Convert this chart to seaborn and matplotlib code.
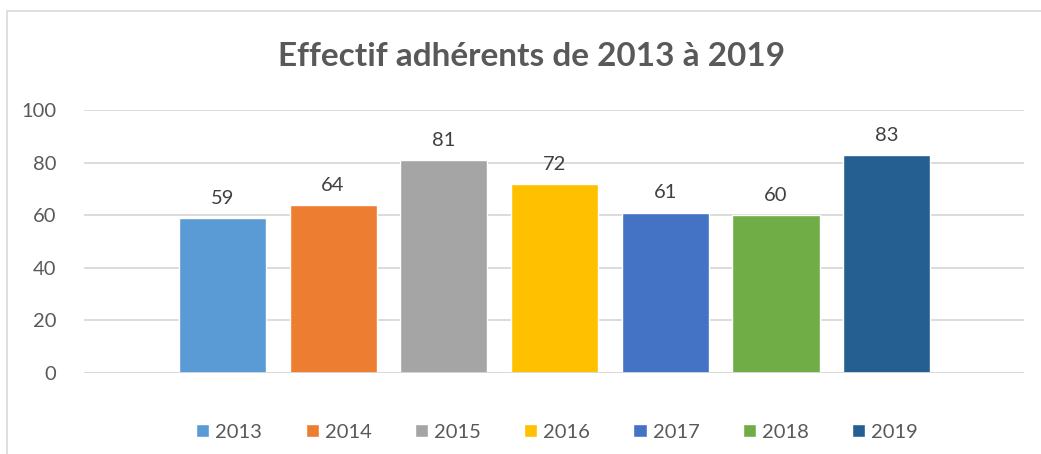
import matplotlib
matplotlib.use("Agg")
import matplotlib.pyplot as plt
from matplotlib.patches import Rectangle
import seaborn as sns
import pandas as pd

YEARS = ["2013", "2014", "2015", "2016", "2017", "2018", "2019"]
MEMBERS = [59, 64, 81, 72, 61, 60, 83]
COLORS = ["#5B9BD5", "#ED7D31", "#A5A5A5", "#FFC000", "#4472C4", "#70AD47", "#255E91"]
Y_TICKS = [0, 20, 40, 60, 80, 100]

sns.set_theme(style="white")
plt.rcParams["font.family"] = ["Lato", "DejaVu Sans"]

df = pd.DataFrame({"year": YEARS, "members": MEMBERS})

W, H = 1041, 454
fig = plt.figure(figsize=(W / 100, H / 100), dpi=100)
ax = fig.add_axes([84 / W, 1 - 373 / H, (1024 - 84) / W, (373 - 110) / H])

# chart area border (Excel style)
fig.patches.append(Rectangle((7 / W, -0.1), 1.2, 1 - 11 / H + 0.1,
                             transform=fig.transFigure, fill=False,
                             edgecolor="#D9D9D9", linewidth=1.2))

ax.set_axisbelow(True)
ax.yaxis.grid(True, color="#D9D9D9", linewidth=1.3)
for s in ax.spines.values():
    s.set_visible(False)

sns.barplot(data=df, x="year", y="members", hue="year", hue_order=YEARS,
            palette=COLORS, width=0.786, dodge=False, legend=True,
            saturation=1, ax=ax)

for c in ax.containers:
    ax.bar_label(c, padding=8, fontsize=14.5, color="#404040")

ax.set_xlim(-1.25, 7.24)
ax.set_ylim(0, 100)
ax.set_yticks(Y_TICKS)
ax.set_xticks([])
ax.set_xlabel("")
ax.set_ylabel("")
ax.tick_params(axis="y", labelsize=14.5, labelcolor="#595959", length=0, pad=20)

ax.axhline(0, color="#D9D9D9", linewidth=1.3)

leg = ax.legend(loc="center", bbox_to_anchor=(557 / W, 1 - 432 / H),
                bbox_transform=fig.transFigure, ncol=7, frameon=False,
                handlelength=0.65, handleheight=0.65, handletextpad=0.3,
                columnspacing=2.15, fontsize=14.5)
for t in leg.get_texts():
    t.set_color("#595959")

fig.text(532 / W, 1 - 56 / H, "Effectif adhérents de 2013 à 2019",
         ha="center", va="center", fontsize=24, fontweight="bold",
         color="#595959")

fig.savefig("out.png", dpi=100)
plt.close()
